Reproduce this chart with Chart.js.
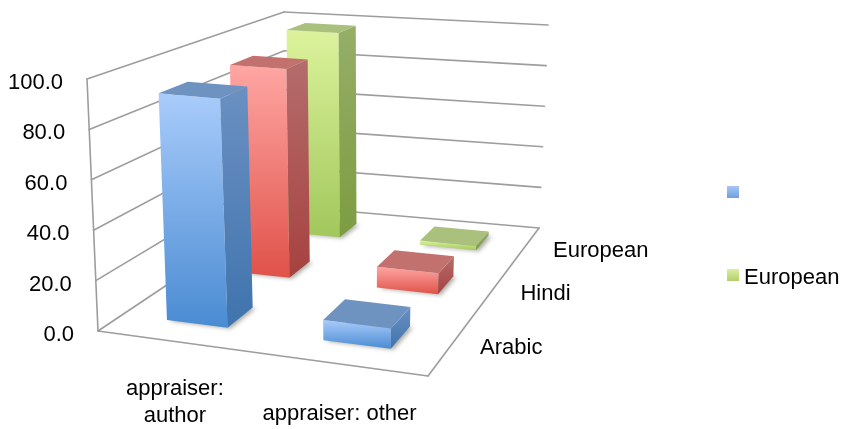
<!DOCTYPE html>
<html>
<head>
<meta charset="utf-8">
<style>
  html, body { margin: 0; padding: 0; background: #fff; }
  #wrap { width: 845px; height: 429px; }
</style>
</head>
<body>
<div id="wrap"><canvas id="chart"></canvas></div>
<script src="https://cdn.jsdelivr.net/npm/chart.js@4/dist/chart.umd.min.js"></script>
<script>
const categories = [['appraiser:', 'author'], 'appraiser: other'];
const seriesNames = ['Arabic', 'Hindi', 'European'];
const arabic = [92, 8];
const hindi = [92, 9];
const european = [98, 2];
const legendNames = ['', 'European'];
const valueTicks = [0, 20, 40, 60, 80, 100];

const FONT = "22px 'Liberation Sans', Arial, sans-serif";
const GRID = '#9d9d9d';

// the box the bars stand in: front-left, front-right, back-right, back-left
const FLOOR = [[98, 331], [428, 376], [539, 228], [285, 206]];
const ROOF = [[87, 79], [437, 112], [548, 25], [284, 12]];

const BAR_W = 0.40;   // share of a category
const BAR_D = 0.38;   // share of a series row

const COLORS = [
  { front: ['#a9ccfb', '#4a8bd2'], side: ['#6b90c2', '#3f74ae'], top: '#6f93c1', key: ['#a6c6f5', '#6f9fe0'] },
  { front: ['#ffa6a3', '#e0524a'], side: ['#b56c6c', '#a64240'], top: '#c2716e', key: ['#ffa6a3', '#e0524a'] },
  { front: ['#dcf39c', '#a2c75c'], side: ['#96ae68', '#7d9c41'], top: '#a9c17d', key: ['#dbeea2', '#b1d06b'] },
];

function homography(q) {
  const [[x0, y0], [x1, y1], [x2, y2], [x3, y3]] = q;
  const dx1 = x1 - x2, dx2 = x3 - x2, sx = x0 - x1 + x2 - x3;
  const dy1 = y1 - y2, dy2 = y3 - y2, sy = y0 - y1 + y2 - y3;
  const den = dx1 * dy2 - dx2 * dy1;
  const g = (sx * dy2 - dx2 * sy) / den;
  const h = (dx1 * sy - sx * dy1) / den;
  const a = x1 - x0 + g * x1, b = x3 - x0 + h * x3;
  const d = y1 - y0 + g * y1, e = y3 - y0 + h * y3;
  return (u, v) => {
    const w = g * u + h * v + 1;
    return [(a * u + b * v + x0) / w, (d * u + e * v + y0) / w];
  };
}

const floorAt = homography(FLOOR);
const roofAt = homography(ROOF);

// u across the categories, v into the depth, t = share of the value axis
function project(u, v, t) {
  const f = floorAt(u, v), r = roofAt(u, v);
  return [f[0] + (r[0] - f[0]) * t, f[1] + (r[1] - f[1]) * t];
}

function poly(ctx, pts, fill) {
  ctx.beginPath();
  pts.forEach((p, i) => (i ? ctx.lineTo(p[0], p[1]) : ctx.moveTo(p[0], p[1])));
  ctx.closePath();
  ctx.fillStyle = fill;
  ctx.fill();
}

function vGrad(ctx, y0, y1, stops) {
  const g = ctx.createLinearGradient(0, y0, 0, y1);
  g.addColorStop(0, stops[0]);
  g.addColorStop(1, stops[1]);
  return g;
}

function line(ctx, a, b) {
  ctx.beginPath();
  ctx.moveTo(a[0], a[1]);
  ctx.lineTo(b[0], b[1]);
  ctx.stroke();
}

const box3d = {
  id: 'box3d',
  beforeDatasetsDraw(chart) {
    const { ctx, scales: { x, y, z } } = chart;
    const share = v => (y.getPixelForValue(0) - y.getPixelForValue(v)) / (y.getPixelForValue(0) - y.getPixelForValue(100));
    const uOf = i => (x.getPixelForValue(i) - x.left) / x.width;
    const vOf = j => (z.getPixelForValue(j) - z.left) / z.width;

    ctx.save();
    ctx.strokeStyle = GRID;
    ctx.lineWidth = 1.6;
    ctx.lineCap = 'round';

    // walls
    y.ticks.forEach(tick => {
      const t = share(tick.value);
      line(ctx, project(0, 0, t), project(0, 1, t));
      line(ctx, project(0, 1, t), project(1, 1, t));
    });
    line(ctx, project(0, 0, 0), project(0, 0, 1));
    line(ctx, project(0, 0, 0), project(1, 0, 0));
    line(ctx, project(1, 0, 0), project(1, 1, 0));

    // bars, back row first
    const halfW = BAR_W / categories.length / 2;
    const halfD = BAR_D / seriesNames.length / 2;
    for (let j = seriesNames.length - 1; j >= 0; j--) {
      const c = COLORS[j];
      const data = chart.data.datasets[j].data;
      data.forEach((val, i) => {
        const u0 = uOf(i) - halfW, u1 = uOf(i) + halfW;
        const v0 = vOf(j) - halfD, v1 = vOf(j) + halfD;
        const t = share(val);
        const fl0 = project(u0, v0, 0), fr0 = project(u1, v0, 0), br0 = project(u1, v1, 0), bl0 = project(u0, v1, 0);
        const fl1 = project(u0, v0, t), fr1 = project(u1, v0, t), br1 = project(u1, v1, t), bl1 = project(u0, v1, t);

        // soft shadow on the floor
        ctx.save();
        ctx.filter = 'blur(2px)';
        poly(ctx, [fl0, fr0, br0, bl0].map(p => [p[0] + 3, p[1] + 1]), 'rgba(70,70,60,.45)');
        ctx.restore();

        poly(ctx, [fl1, fr1, fr0, fl0], vGrad(ctx, Math.min(fl1[1], fr1[1]), Math.max(fl0[1], fr0[1]), c.front));
        poly(ctx, [fr1, br1, br0, fr0], vGrad(ctx, br1[1], fr0[1], c.side));
        poly(ctx, [fl1, fr1, br1, bl1], c.top);
      });
    }

    // axis text
    ctx.fillStyle = '#000';
    ctx.font = FONT;
    ctx.textBaseline = 'middle';
    ctx.textAlign = 'right';
    y.ticks.forEach(tick => {
      const p = project(0, 0, share(tick.value));
      ctx.fillText(tick.value.toFixed(1), p[0] - 24, y.getPixelForValue(tick.value) + 4);
    });
    ctx.textAlign = 'center';
    categories.forEach((label, i) => {
      const p = project(uOf(i), 0, 0);
      const lines = [].concat(label);
      const mid = p[1] + 50 + 11 * (lines.length - 1);
      lines.forEach((txt, k) => {
        ctx.fillText(txt, p[0] + 1, mid + (k - (lines.length - 1) / 2) * 27);
      });
    });
    ctx.textAlign = 'left';
    seriesNames.forEach((name, j) => {
      const p = project(1, vOf(j), 0);
      ctx.fillText(name, p[0] + 28, p[1] + 4);
    });

    // legend
    legendNames.forEach((name, k) => {
      const c = COLORS[k === 0 ? 0 : 2];
      const top = 186 + k * 83;
      ctx.fillStyle = vGrad(ctx, top, top + 12, c.key);
      ctx.fillRect(727, top, 12, 12);
      ctx.fillStyle = '#000';
      ctx.fillText(name, 744, top + 9);
    });
    ctx.restore();
  },
};

new Chart(document.getElementById('chart'), {
  type: 'bar',
  data: {
    labels: categories,
    datasets: [
      { label: seriesNames[0], data: arabic, backgroundColor: 'transparent' },
      { label: seriesNames[1], data: hindi, backgroundColor: 'transparent' },
      { label: seriesNames[2], data: european, backgroundColor: 'transparent' },
    ],
  },
  options: {
    responsive: true,
    maintainAspectRatio: false,
    animation: false,
    layout: { padding: { top: 79, bottom: 98, left: 0, right: 0 } },
    plugins: { legend: { display: false }, tooltip: { enabled: false } },
    scales: {
      x: { display: false, offset: true },
      y: {
        display: false,
        min: 0,
        max: 100,
        afterBuildTicks: axis => { axis.ticks = valueTicks.map(v => ({ value: v })); },
      },
      z: { type: 'category', axis: 'x', labels: seriesNames, display: false, offset: true },
    },
  },
  plugins: [box3d],
});
</script>
</body>
</html>
